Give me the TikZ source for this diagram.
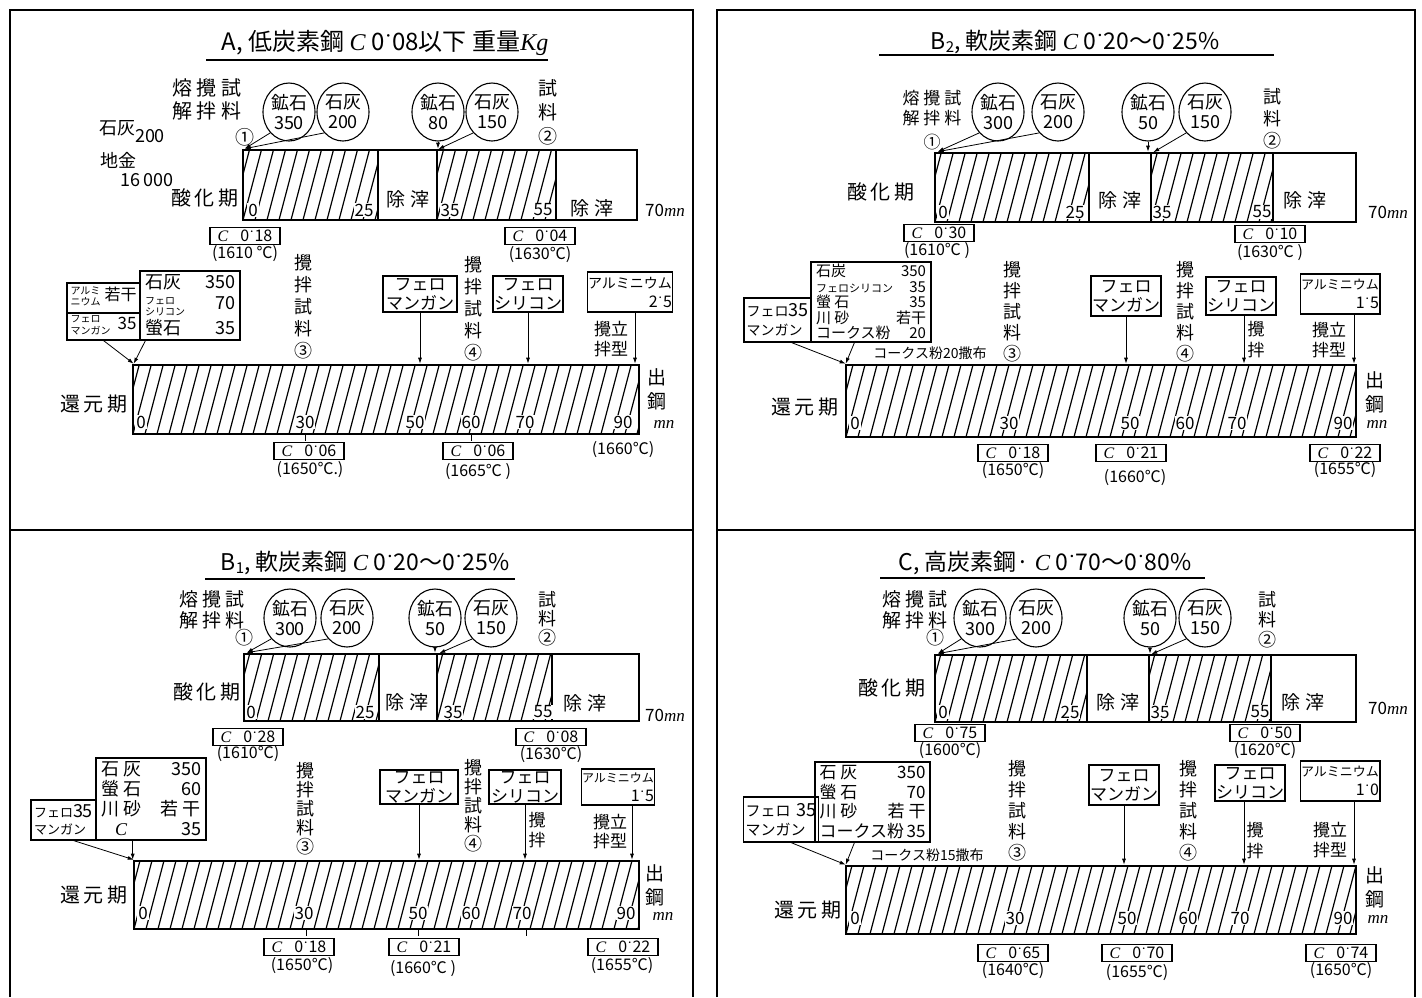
\documentclass[tikz,border=0pt]{standalone}
\usepackage{fontspec}
\setmainfont{Noto Sans CJK JP}
\newfontfamily\sif{Liberation Serif}
\usetikzlibrary{shapes.geometric,arrows.meta,fit}
\newcommand\fs[2]{\fontsize{#1}{#2}\selectfont}
\newcommand\Ci{{\sif\itshape C}}
\newcommand\mnu{{\sif\itshape mn}}
\newcommand\dd{{\sif ˙}}
\newcommand\stk[1]{{\fs{10}{11}\begin{tabular}{@{}l@{}}#1\end{tabular}}}
\newcommand\rw[3]{\makebox[#1]{#2\hfill #3}}
\newcommand\barseg[6]{%
  \coordinate (#1-a) at (#2,#3); \coordinate (#1-b) at (#4,#5);
  \node[fit=(#1-a)(#1-b), inner sep=0pt, #6] (#1) {};}
\tikzset{
  frm/.style={line width=1.8pt},
  ul/.style={line width=1.2pt},
  segs/.style={draw, line width=1.5pt},
  barframe/.style={draw, line width=2.6pt},
  hatch/.style={path picture={%
    \foreach \k in {0,...,46}{\draw[line width=1.2pt] ([xshift=\k*12pt-24pt]path picture bounding box.south west) -- ++(20pt,76pt);}}},
  ore/.style={ellipse, draw, line width=1.1pt, minimum width=52pt, minimum height=58pt, inner sep=0pt, align=center, font=\fs{18}{20}},
  txt/.style={inner sep=0pt, align=center},
  num/.style={inner sep=1pt, fill=white, font=\fs{17}{17}},
  cbox/.style={draw, line width=1.1pt, inner sep=0pt, minimum width=70pt, minimum height=17pt, font=\fs{16}{16}},
  mbox/.style={draw, line width=1.1pt, inner sep=2pt, align=left},
  tbox/.style={draw, line width=1.1pt, inner sep=1pt, align=center, font=\fs{17}{19}},
  albox/.style={draw, line width=1.1pt, inner sep=1pt, align=right, font=\fs{16}{16}},
  arr/.style={-{Latex[length=6pt,width=4pt]}, line width=0.8pt},
  tk/.style={line width=1pt},
  ttl/.style={inner sep=0pt, font=\fs{23}{23}},
  vcol/.style={inner sep=0pt, align=center, font=\fs{18}{22}},
  tmp/.style={inner sep=0pt, font=\fs{16}{16}},
  lab/.style={inner sep=0pt, align=center, font=\fs{20}{20}},
  slg/.style={inner sep=0pt, align=center, font=\fs{19}{19}},
}
\begin{document}
\begin{tikzpicture}[x=1pt,y=-1pt]
\useasboundingbox (0,0) rectangle (1422,997);
% frames
\draw[frm] (10,997) -- (10,10) -- (693,10) -- (693,997);
\draw[frm] (10,530) -- (693,530);
\draw[frm] (717,997) -- (717,10) -- (1415,10) -- (1415,997);
\draw[frm] (717,530) -- (1415,530);

%%%%%%%%%%%%%%%% Panel A
\node[ttl,font=\fs{24}{24}] (aT) at (385,43) {A, 低炭素鋼 \Ci\ 0\dd08以下 重量{\sif\itshape Kg}};
\draw[ul] (206,60) -- (548,60);
\node[txt,font=\fs{20}{23}] (aM) at (207,99) {熔 攪 試\\解 拌 料};
\node[txt,font=\fs{19}{19}] (a1) at (245,137) {①};
\node[ore] (aC1) at (289,112) {鉱石\\350};
\node[ore] (aC2) at (343,112) {石灰\\200};
\node[ore] (aC3) at (438,112) {鉱石\\80};
\node[ore] (aC4) at (492,112) {石灰\\150};
\node[txt,font=\fs{19}{24}] (a2) at (548,112) {試\\料\\②};
\node[txt,font=\fs{18}{18}] (aL1) at (132,132) {石灰\raisebox{-8pt}{200}};
\node[txt,font=\fs{18}{18}] (aL2) at (118,160) {地金};
\node[txt,font=\fs{18}{18}] (aL3) at (147,180) {16\,000};
\node[lab] (aOxL) at (205,198) {酸\,化\,期};
\barseg{aO1}{243}{150}{378}{220}{segs,hatch}
\barseg{aO2}{378}{150}{437}{220}{segs}
\barseg{aO3}{437}{150}{556}{220}{segs,hatch}
\barseg{aO4}{556}{150}{637}{220}{segs}
\barseg{aOx}{243}{150}{637}{220}{barframe}
\node[num] (aN1) at (253,210) {0};
\node[num] (aN2) at (364,210) {25};
\node[num] (aN3) at (450,210) {35};
\node[num] (aN4) at (543,210) {55};
\node[slg] (aS1) at (408,199) {除\ 滓};
\node[slg] (aS2) at (592,208) {除\ 滓};
\node[txt,font=\fs{17}{17}] (aU) at (665,210) {70\mnu};
\draw[arr] (aC1.south west) -- ([xshift=3pt]aOx.north west);
\draw[arr] (aC2.south west) -- ([xshift=3pt]aOx.north west);
\draw[arr] (aC3.south) -- (aC3.south |- aOx.north);
\draw[arr] (aC4.south west) -- ([xshift=2pt]aO3.north west);
\node[cbox] (aK1) at (245,236) {\Ci\hspace{12pt}0\dd18};
\node[tmp] (aK1t) at (245,254) {(1610 ℃)};
\node[cbox] (aK2) at (540,236) {\Ci\hspace{12pt}0\dd04};
\node[tmp] (aK2t) at (540,255) {(1630℃)};
% reduction
\barseg{aR}{133}{365}{639}{434}{barframe,hatch}
\node[lab] (aRL) at (94,404) {還\,元\,期};
\node[num] (aR0) at (141,422) {0};
\node[num] (aR1) at (305,422) {30};
\node[num] (aR2) at (415,422) {50};
\node[num] (aR3) at (471,422) {60};
\node[num] (aR4) at (525,422) {70};
\node[num] (aR5) at (623,422) {90};
\node[txt,font=\fs{19}{24}] (aE) at (657,389) {出\\鋼};
\node[txt,font=\fs{17}{17}] (aEm) at (664,424) {\mnu};
\draw[tk] (305,434) -- (305,441);
\draw[tk] (471,434) -- (471,441);
\node[mbox,minimum width=73pt,minimum height=30pt,font=\fs{16}{16}] (aBx1) at (103.5,298) {\rw{66pt}{\stk{アルミ\\ニウム}}{若干}};
\node[mbox,minimum width=73pt,minimum height=27pt,font=\fs{17}{17}] (aBx2) at (103.5,326.5) {\rw{66pt}{\stk{フェロ\\マンガン}}{35}};
\node[mbox,minimum width=100pt,minimum height=69pt,font=\fs{18}{21}] (aBx3) at (190,305.5) {\rw{90pt}{石灰}{350}\\\rw{90pt}{\stk{フェロ\\シリコン}}{70}\\\rw{90pt}{螢石}{35}};
\draw[arr] (aBx2.south) -- ([xshift=2pt]aR.north west);
\draw[arr] ([xshift=6pt]aBx3.south west) -- ([xshift=2pt]aR.north west);
\node[vcol] (a3) at (303,307) {攪\\拌\\試\\料\\③};
\node[tbox,minimum width=74pt,minimum height=36pt] (aFM) at (420,294) {フェロ\\マンガン};
\node[vcol] (a4) at (473,309) {攪\\拌\\試\\料\\④};
\node[tbox,minimum width=70pt,minimum height=36pt] (aFS) at (528,294) {フェロ\\シリコン};
\node[albox,minimum width=76pt,minimum height=40pt] (aAl) at (630,292) {{\fs{14}{14}アルミニウム}\\[3pt]2\dd5};
\node[txt,font=\fs{17}{20}] (aAlL) at (611,339) {攪立\\拌型};
\draw[arr] (aFM.south) -- (aFM.south |- aR.north);
\draw[arr] (aFS.south) -- (aFS.south |- aR.north);
\draw[arr] ([xshift=5pt]aAl.south) -- ([xshift=5pt]aAl.south |- aR.north);
\node[cbox] (aK3) at (309,451) {\Ci\hspace{12pt}0\dd06};
\node[tmp] (aK3t) at (310,470) {(1650℃.)};
\node[cbox] (aK4) at (478,451) {\Ci\hspace{12pt}0\dd06};
\node[tmp] (aK4t) at (478,472) {(1665℃ )};
\node[tmp] (aK5t) at (623,450) {(1660℃)};

%%%%%%%%%%%%%%%% Panel B2
\node[ttl] (bT) at (1075,42) {B\raisebox{-3pt}{\fs{15}{15}2}, 軟炭素鋼 \Ci\ 0\dd20～0\dd25\%};
\draw[ul] (879,55) -- (1274,55);
\node[txt,font=\fs{17}{20}] (bM) at (932,108) {熔 攪 試\\解 拌 料};
\node[txt,font=\fs{17}{17}] (b1) at (932,142) {①};
\node[ore] (bC1) at (998,112) {鉱石\\300};
\node[ore] (bC2) at (1058,112) {石灰\\200};
\node[ore] (bC3) at (1148,112) {鉱石\\50};
\node[ore] (bC4) at (1205,112) {石灰\\150};
\node[txt,font=\fs{18}{22}] (b2) at (1272,119) {試\\料\\②};
\node[lab] (bOxL) at (881,192) {酸\,化\,期};
\barseg{bO1}{935}{153}{1089}{222}{segs,hatch}
\barseg{bO2}{1089}{153}{1151}{222}{segs}
\barseg{bO3}{1151}{153}{1273}{222}{segs,hatch}
\barseg{bO4}{1273}{153}{1356}{222}{segs}
\barseg{bOx}{935}{153}{1356}{222}{barframe}
\node[num] (bN1) at (943,212) {0};
\node[num] (bN2) at (1075,212) {25};
\node[num] (bN3) at (1162,212) {35};
\node[num] (bN4) at (1262,212) {55};
\node[slg] (bS1) at (1120,200) {除\ 滓};
\node[slg] (bS2) at (1305,200) {除\ 滓};
\node[txt,font=\fs{17}{17}] (bU) at (1388,212) {70\mnu};
\draw[arr] (bC1.south west) -- ([xshift=4pt]bOx.north west);
\draw[arr] (bC2.south west) -- ([xshift=4pt]bOx.north west);
\draw[arr] (bC3.south) -- (bC3.south |- bOx.north);
\draw[arr] (bC4.south west) -- ([xshift=3pt]bO3.north west);
\node[cbox] (bK1) at (939,233) {\Ci\hspace{12pt}0\dd30};
\node[tmp] (bK1t) at (937,251) {(1610℃ )};
\node[cbox] (bK2) at (1270,234) {\Ci\hspace{12pt}0\dd10};
\node[tmp] (bK2t) at (1270,253) {(1630℃ )};
\barseg{bR}{846}{365}{1356}{437}{barframe,hatch}
\node[lab] (bRL) at (805,407) {還\,元\,期};
\node[num] (bR0) at (855,423) {0};
\node[num] (bR1) at (1009,423) {30};
\node[num] (bR2) at (1130,423) {50};
\node[num] (bR3) at (1185,423) {60};
\node[num] (bR4) at (1237,423) {70};
\node[num] (bR5) at (1343,423) {90};
\node[txt,font=\fs{19}{24}] (bE) at (1375,392) {出\\鋼};
\node[txt,font=\fs{17}{17}] (bEm) at (1377,424) {\mnu};
\node[mbox,minimum width=67pt,minimum height=44pt,font=\fs{14}{19}] (bBx1) at (777.5,320) {フェロ{\fs{18}{18}35}\\マンガン};
\node[mbox,minimum width=120pt,minimum height=80pt,font=\fs{15}{15.5}] (bBx2) at (871,302) {\rw{110pt}{石炭}{350}\\\rw{110pt}{{\fs{11}{11}フェロシリコン}}{35}\\\rw{110pt}{螢 石}{35}\\\rw{110pt}{川 砂}{若干}\\\rw{110pt}{コークス粉}{20}};
\draw[arr] ([xshift=14pt]bBx1.south) -- ([xshift=1pt]bR.north west);
\draw[arr] ([xshift=44pt]bBx2.south west) -- ([xshift=1pt]bR.north west);
\node[txt,font=\fs{14}{14}] (bKs) at (930,353) {コークス粉20撒布};
\node[vcol,font=\fs{18}{21}] (b3) at (1012,312) {攪\\拌\\試\\料\\③};
\node[tbox,minimum width=68pt,minimum height=40pt] (bFM) at (1126,296) {フェロ\\マンガン};
\node[vcol,font=\fs{18}{21}] (b4) at (1185,312) {攪\\拌\\試\\料\\④};
\node[tbox,minimum width=70pt,minimum height=38pt] (bFS) at (1241,296) {フェロ\\シリコン};
\node[txt,font=\fs{17}{21}] (bFSL) at (1256,340) {攪\\拌};
\node[albox,minimum width=68pt,minimum height=40pt] (bAl) at (1340,294) {{\fs{13}{13}アルミニウム}\\[3pt]1\dd5};
\node[txt,font=\fs{17}{20}] (bAlL) at (1329,340) {攪立\\拌型};
\draw[arr] (bFM.south) -- (bFM.south |- bR.north);
\draw[arr] ([xshift=3pt]bFS.south) -- ([xshift=3pt]bFS.south |- bR.north);
\draw[arr] ([xshift=14pt]bAl.south) -- ([xshift=14pt]bAl.south |- bR.north);
\node[cbox] (bK3) at (1013,453) {\Ci\hspace{12pt}0\dd18};
\node[tmp] (bK3t) at (1013,471) {(1650℃)};
\node[cbox] (bK4) at (1131,453) {\Ci\hspace{12pt}0\dd21};
\node[tmp] (bK4t) at (1135,478) {(1660℃)};
\node[cbox] (bK5) at (1345,453) {\Ci\hspace{12pt}0\dd22};
\node[tmp] (bK5t) at (1345,470) {(1655℃)};

%%%%%%%%%%%%%%%% Panel B1
\node[ttl] (cT) at (365,563) {B\raisebox{-3pt}{\fs{15}{15}1}, 軟炭素鋼 \Ci\ 0\dd20～0\dd25\%};
\draw[ul] (205,579) -- (515,579);
\node[txt,font=\fs{19}{21}] (cM) at (212,610) {熔 攪 試\\解 拌 料};
\node[txt,font=\fs{18}{18}] (c1) at (244,638) {①};
\node[ore] (cC1) at (290,618) {鉱石\\300};
\node[ore] (cC2) at (347,618) {石灰\\200};
\node[ore] (cC3) at (435,618) {鉱石\\50};
\node[ore] (cC4) at (491,618) {石灰\\150};
\node[txt,font=\fs{18}{19}] (c2) at (547,619) {試\\料\\②};
\node[lab] (cOxL) at (207,692) {酸\,化\,期};
\barseg{cO1}{244}{654}{379}{721}{segs,hatch}
\barseg{cO2}{379}{654}{437}{721}{segs}
\barseg{cO3}{437}{654}{552}{721}{segs,hatch}
\barseg{cO4}{552}{654}{639}{721}{segs}
\barseg{cOx}{244}{654}{639}{721}{barframe}
\node[num] (cN1) at (251,712) {0};
\node[num] (cN2) at (365,712) {25};
\node[num] (cN3) at (453,712) {35};
\node[num] (cN4) at (543,712) {55};
\node[slg] (cS1) at (407,702) {除\ 滓};
\node[slg] (cS2) at (585,703) {除\ 滓};
\node[txt,font=\fs{17}{17}] (cU) at (665,715) {70\mnu};
\draw[arr] (cC1.south west) -- ([xshift=4pt]cOx.north west);
\draw[arr] (cC2.south west) -- ([xshift=4pt]cOx.north west);
\draw[arr] (cC3.south) -- (cC3.south |- cOx.north);
\draw[arr] (cC4.south west) -- ([xshift=3pt]cO3.north west);
\node[cbox] (cK1) at (248,737) {\Ci\hspace{12pt}0\dd28};
\node[tmp] (cK1t) at (248,754) {(1610℃)};
\node[cbox] (cK2) at (551,737) {\Ci\hspace{12pt}0\dd08};
\node[tmp] (cK2t) at (551,755) {(1630℃)};
\barseg{cR}{134}{861}{639}{929}{barframe,hatch}
\node[lab] (cRL) at (94,895) {還\,元\,期};
\node[num] (cR0) at (143,913) {0};
\node[num] (cR1) at (304,913) {30};
\node[num] (cR2) at (418,913) {50};
\node[num] (cR3) at (471,913) {60};
\node[num] (cR4) at (522,913) {70};
\node[num] (cR5) at (626,913) {90};
\node[txt,font=\fs{19}{24}] (cE) at (655,885) {出\\鋼};
\node[txt,font=\fs{17}{17}] (cEm) at (663,916) {\mnu};
\draw[tk] (306,929) -- (306,936);
\draw[tk] (418,929) -- (418,936);
\draw[tk] (526,929) -- (526,936);
\node[mbox,minimum width=65pt,minimum height=40pt,font=\fs{13}{17}] (cBx1) at (63.5,820) {フェロ{\fs{18}{18}35}\\マンガン};
\node[mbox,minimum width=110pt,minimum height=82pt,font=\fs{18}{20}] (cBx2) at (151,799) {\rw{100pt}{石\ 灰}{350}\\\rw{100pt}{螢\ 石}{60}\\\rw{100pt}{川\ 砂}{若\ 干}\\\rw{100pt}{\hspace{14pt}\Ci}{35}};
\draw[arr] ([xshift=10pt]cBx1.south) -- ([xshift=1pt]cR.north west);
\draw[arr] (cR.north west |- cBx2.south) -- (cR.north west);
\node[vcol,font=\fs{18}{19}] (c3) at (305,809) {攪\\拌\\試\\料\\③};
\node[tbox,minimum width=78pt,minimum height=34pt] (cFM) at (419,787) {フェロ\\マンガン};
\node[vcol,font=\fs{18}{19}] (c4) at (473,806) {攪\\拌\\試\\料\\④};
\node[tbox,minimum width=72pt,minimum height=34pt] (cFS) at (525,787) {フェロ\\シリコン};
\node[txt,font=\fs{17}{20}] (cFSL) at (537,830) {攪\\拌};
\node[albox,minimum width=64pt,minimum height=36pt] (cAl) at (618,787) {{\fs{12}{12}アルミニウム}\\[3pt]1\dd5};
\node[txt,font=\fs{17}{19}] (cAlL) at (610,832) {攪立\\拌型};
\draw[arr] (cFM.south) -- (cFM.south |- cR.north);
\draw[arr] (cFS.south) -- (cFS.south |- cR.north);
\draw[arr] ([xshift=14pt]cAl.south) -- ([xshift=14pt]cAl.south |- cR.north);
\node[cbox] (cK3) at (299,947) {\Ci\hspace{12pt}0\dd18};
\node[tmp] (cK3t) at (302,966) {(1650℃)};
\node[cbox] (cK4) at (424,947) {\Ci\hspace{12pt}0\dd21};
\node[tmp] (cK4t) at (423,969) {(1660℃ )};
\node[cbox] (cK5) at (623,947) {\Ci\hspace{12pt}0\dd22};
\node[tmp] (cK5t) at (622,966) {(1655℃)};

%%%%%%%%%%%%%%%% Panel C
\node[ttl] (dT) at (1045,563) {C, 高炭素鋼· \Ci\ 0\dd70～0\dd80\%};
\draw[ul] (880,578) -- (1205,578);
\node[txt,font=\fs{19}{21}] (dM) at (915,610) {熔 攪 試\\解 拌 料};
\node[txt,font=\fs{18}{18}] (d1) at (935,638) {①};
\node[ore] (dC1) at (980,618) {鉱石\\300};
\node[ore] (dC2) at (1036,618) {石灰\\200};
\node[ore] (dC3) at (1150,618) {鉱石\\50};
\node[ore] (dC4) at (1205,618) {石灰\\150};
\node[txt,font=\fs{18}{20}] (d2) at (1267,620) {試\\料\\②};
\node[lab] (dOxL) at (892,688) {酸\,化\,期};
\barseg{dO1}{935}{655}{1087}{722}{segs,hatch}
\barseg{dO2}{1087}{655}{1149}{722}{segs}
\barseg{dO3}{1149}{655}{1271}{722}{segs,hatch}
\barseg{dO4}{1271}{655}{1356}{722}{segs}
\barseg{dOx}{935}{655}{1356}{722}{barframe}
\node[num] (dN1) at (943,712) {0};
\node[num] (dN2) at (1070,712) {25};
\node[num] (dN3) at (1160,712) {35};
\node[num] (dN4) at (1260,712) {55};
\node[slg] (dS1) at (1118,702) {除\ 滓};
\node[slg] (dS2) at (1303,702) {除\ 滓};
\node[txt,font=\fs{17}{17}] (dU) at (1388,708) {70\mnu};
\draw[arr] (dC1.south west) -- ([xshift=4pt]dOx.north west);
\draw[arr] (dC2.south west) -- ([xshift=4pt]dOx.north west);
\draw[arr] (dC3.south) -- (dC3.south |- dOx.north);
\draw[arr] (dC4.south west) -- ([xshift=3pt]dO3.north west);
\node[cbox] (dK1) at (950,733) {\Ci\hspace{12pt}0\dd75};
\node[tmp] (dK1t) at (950,751) {(1600℃)};
\node[cbox] (dK2) at (1265,733) {\Ci\hspace{12pt}0\dd50};
\node[tmp] (dK2t) at (1265,751) {(1620℃)};
\barseg{dR}{846}{866}{1356}{934}{barframe,hatch}
\node[lab] (dRL) at (808,910) {還\,元\,期};
\node[num] (dR0) at (855,918) {0};
\node[num] (dR1) at (1015,918) {30};
\node[num] (dR2) at (1127,918) {50};
\node[num] (dR3) at (1188,918) {60};
\node[num] (dR4) at (1240,918) {70};
\node[num] (dR5) at (1343,918) {90};
\node[txt,font=\fs{19}{24}] (dE) at (1375,887) {出\\鋼};
\node[txt,font=\fs{17}{17}] (dEm) at (1378,919) {\mnu};
\node[mbox,minimum width=68pt,minimum height=45pt,font=\fs{15}{19}] (dBx1) at (781,819.5) {フェロ\hspace{6pt}{\fs{18}{18}35}\\マンガン};
\node[mbox,minimum width=115pt,minimum height=80pt,font=\fs{17}{19.5}] (dBx2) at (872.5,802) {\rw{106pt}{石\ 灰}{350}\\\rw{106pt}{螢\ 石}{70}\\\rw{106pt}{川\ 砂}{若\ 干}\\\rw{106pt}{コークス粉}{35}};
\draw[arr] ([xshift=10pt]dBx1.south) -- ([xshift=1pt]dR.north west);
\draw[arr] ([xshift=40pt]dBx2.south west) -- ([xshift=1pt]dR.north west);
\node[txt,font=\fs{14}{14}] (dKs) at (927,855) {コークス粉15撒布};
\node[vcol,font=\fs{18}{21}] (d3) at (1017,811) {攪\\拌\\試\\料\\③};
\node[tbox,minimum width=66pt,minimum height=40pt] (dFM) at (1124,785) {フェロ\\マンガン};
\node[vcol,font=\fs{18}{21}] (d4) at (1188,811) {攪\\拌\\試\\料\\④};
\node[tbox,minimum width=70pt,minimum height=36pt] (dFS) at (1250,783) {フェロ\\シリコン};
\node[txt,font=\fs{17}{21}] (dFSL) at (1255,841) {攪\\拌};
\node[albox,minimum width=70pt,minimum height=40pt] (dAl) at (1340,781) {{\fs{13}{13}アルミニウム}\\[3pt]1\dd0};
\node[txt,font=\fs{17}{20}] (dAlL) at (1330,840) {攪立\\拌型};
\draw[arr] (dFM.south) -- (dFM.south |- dR.north);
\draw[arr] ([xshift=-6pt]dFS.south) -- ([xshift=-6pt]dFS.south |- dR.north);
\draw[arr] ([xshift=14pt]dAl.south) -- ([xshift=14pt]dAl.south |- dR.north);
\node[cbox] (dK3) at (1013,953) {\Ci\hspace{12pt}0\dd65};
\node[tmp] (dK3t) at (1013,971) {(1640℃)};
\node[cbox] (dK4) at (1137,953) {\Ci\hspace{12pt}0\dd70};
\node[tmp] (dK4t) at (1137,973) {(1655℃)};
\node[cbox] (dK5) at (1341,953) {\Ci\hspace{12pt}0\dd74};
\node[tmp] (dK5t) at (1341,971) {(1650℃)};
\end{tikzpicture}
\end{document}
